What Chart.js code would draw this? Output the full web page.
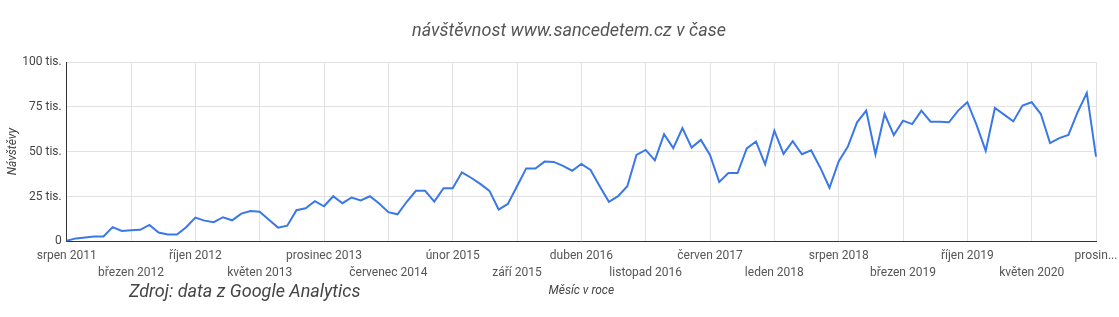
<!DOCTYPE html>
<html>
<head>
<meta charset="utf-8">
<script src="https://cdn.jsdelivr.net/npm/chart.js@4.4.1/dist/chart.umd.min.js"></script>
<style>
body { margin: 0; background: #fff; }
#wrap { position: relative; width: 1119px; height: 317px; }
#title { position: absolute; left: 0; width: 1138px; top: 19px; text-align: center; font: italic 18px Roboto; color: #555; white-space: nowrap; }
#source { position: absolute; left: 129px; top: 280px; font: italic 18px Roboto; color: #444; white-space: nowrap; }
</style>
</head>
<body>
<div id="wrap">
    <canvas id="myChart"></canvas>
    <div id="title">návštěvnost www.sancedetem.cz v čase</div>
    <div id="source">Zdroj: data z Google Analytics</div>
</div>
<script>
const monthNames = ['leden', 'únor', 'březen', 'duben', 'květen', 'červen', 'červenec', 'srpen', 'září', 'říjen', 'listopad', 'prosinec'];
const startYear = 2011;
const startMonth = 7; // srpen
const visits = [
    400, 1700, 2200, 2800, 2800, 8000, 5800, 6200, 6500, 9200, 5000, 3900, 3900, 7900,
    13300, 11600, 10700, 13500, 11800, 15500, 17000, 16600, 12100, 7700, 8800, 17400, 18500, 22400,
    19600, 25200, 21300, 24500, 22800, 25200, 21100, 16300, 15100, 22100, 28200, 28200, 22200, 29700,
    29700, 38500, 35500, 32100, 28200, 17800, 20900, 30800, 40700, 40600, 44500, 44300, 42100, 39400,
    43200, 39800, 30800, 22100, 25200, 30800, 48200, 51000, 45200, 59800, 52000, 63200, 52300, 56600,
    48200, 33100, 38100, 38100, 51800, 55700, 43000, 61700, 48800, 55900, 48600, 50800, 41100, 29900,
    44600, 52900, 66400, 72900, 48600, 71000, 59300, 67300, 65400, 72900, 66700, 66700, 66400, 72900,
    77600, 65000, 50500, 74400, 70700, 66900, 75700, 77600, 71000, 54800, 57600, 59400, 72000, 82800,
    47300
];
const labels = visits.map((v, i) => {
    const m = startMonth + i;
    return monthNames[m % 12] + ' ' + (startYear + Math.floor(m / 12));
});
const tickEvery = 7;
const lastTickLabel = 'prosin...';
const yTickValues = [0, 25000, 50000, 75000, 100000];
const yTickLabels = ['0', '25 tis.', '50 tis.', '75 tis.', '100 tis.'];

const data = {
    labels: labels,
    datasets: [
        {
            label: 'Návštěvy',
            data: visits,
            borderColor: '#3b78e7',
            borderWidth: 2,
            fill: false,
            tension: 0,
            pointRadius: 0,
        },
    ],
};

const config = {
    type: 'line',
    data: data,
    options: {
        responsive: true,
        maintainAspectRatio: false,
        animation: false,
        layout: {
            padding: { top: 62, right: 23, bottom: 0, left: 0 },
        },
        scales: {
            x: {
                border: { color: '#333', width: 1 },
                grid: {
                    color: '#e2e2e2',
                    drawTicks: false,
                },
                afterFit: (axis) => {
                    // let the last label hang into the layout padding
                    axis.paddingRight = 0;
                },
                ticks: {
                    autoSkip: false,
                    maxRotation: 0,
                    padding: 7,
                    color: '#555',
                    font: { family: 'Roboto', size: 12, lineHeight: 1.34 },
                    callback: (value, index) => {
                        if (index % tickEvery) return null;
                        const text = index === labels.length - 1 ? lastTickLabel : labels[index];
                        return (index / tickEvery) % 2 ? ['', text] : text;
                    },
                },
                title: {
                    display: true,
                    text: 'Měsíc v roce',
                    color: '#444',
                    font: { family: 'Roboto', size: 12, style: 'italic' },
                    padding: { top: -4, bottom: 19 },
                },
            },
            y: {
                min: 0,
                max: 100000,
                border: { color: '#333', width: 1 },
                grid: {
                    color: '#e2e2e2',
                    drawTicks: false,
                },
                afterBuildTicks: (axis) => {
                    axis.ticks = yTickValues.map((v) => ({ value: v }));
                },
                afterFit: (axis) => {
                    axis.width = 66.7;
                },
                ticks: {
                    padding: 5,
                    color: '#444',
                    font: { family: 'Roboto', size: 12 },
                    callback: (value) => yTickLabels[yTickValues.indexOf(value)],
                },
                title: {
                    display: true,
                    text: 'Návštěvy',
                    color: '#444',
                    font: { family: 'Roboto', size: 12, style: 'italic' },
                    padding: { top: 6, bottom: 4 },
                },
            },
        },
        plugins: {
            legend: { display: false },
            tooltip: { enabled: false },
        },
    },
};

const myChart = new Chart(document.getElementById('myChart'), config);
</script>
</body>
</html>
